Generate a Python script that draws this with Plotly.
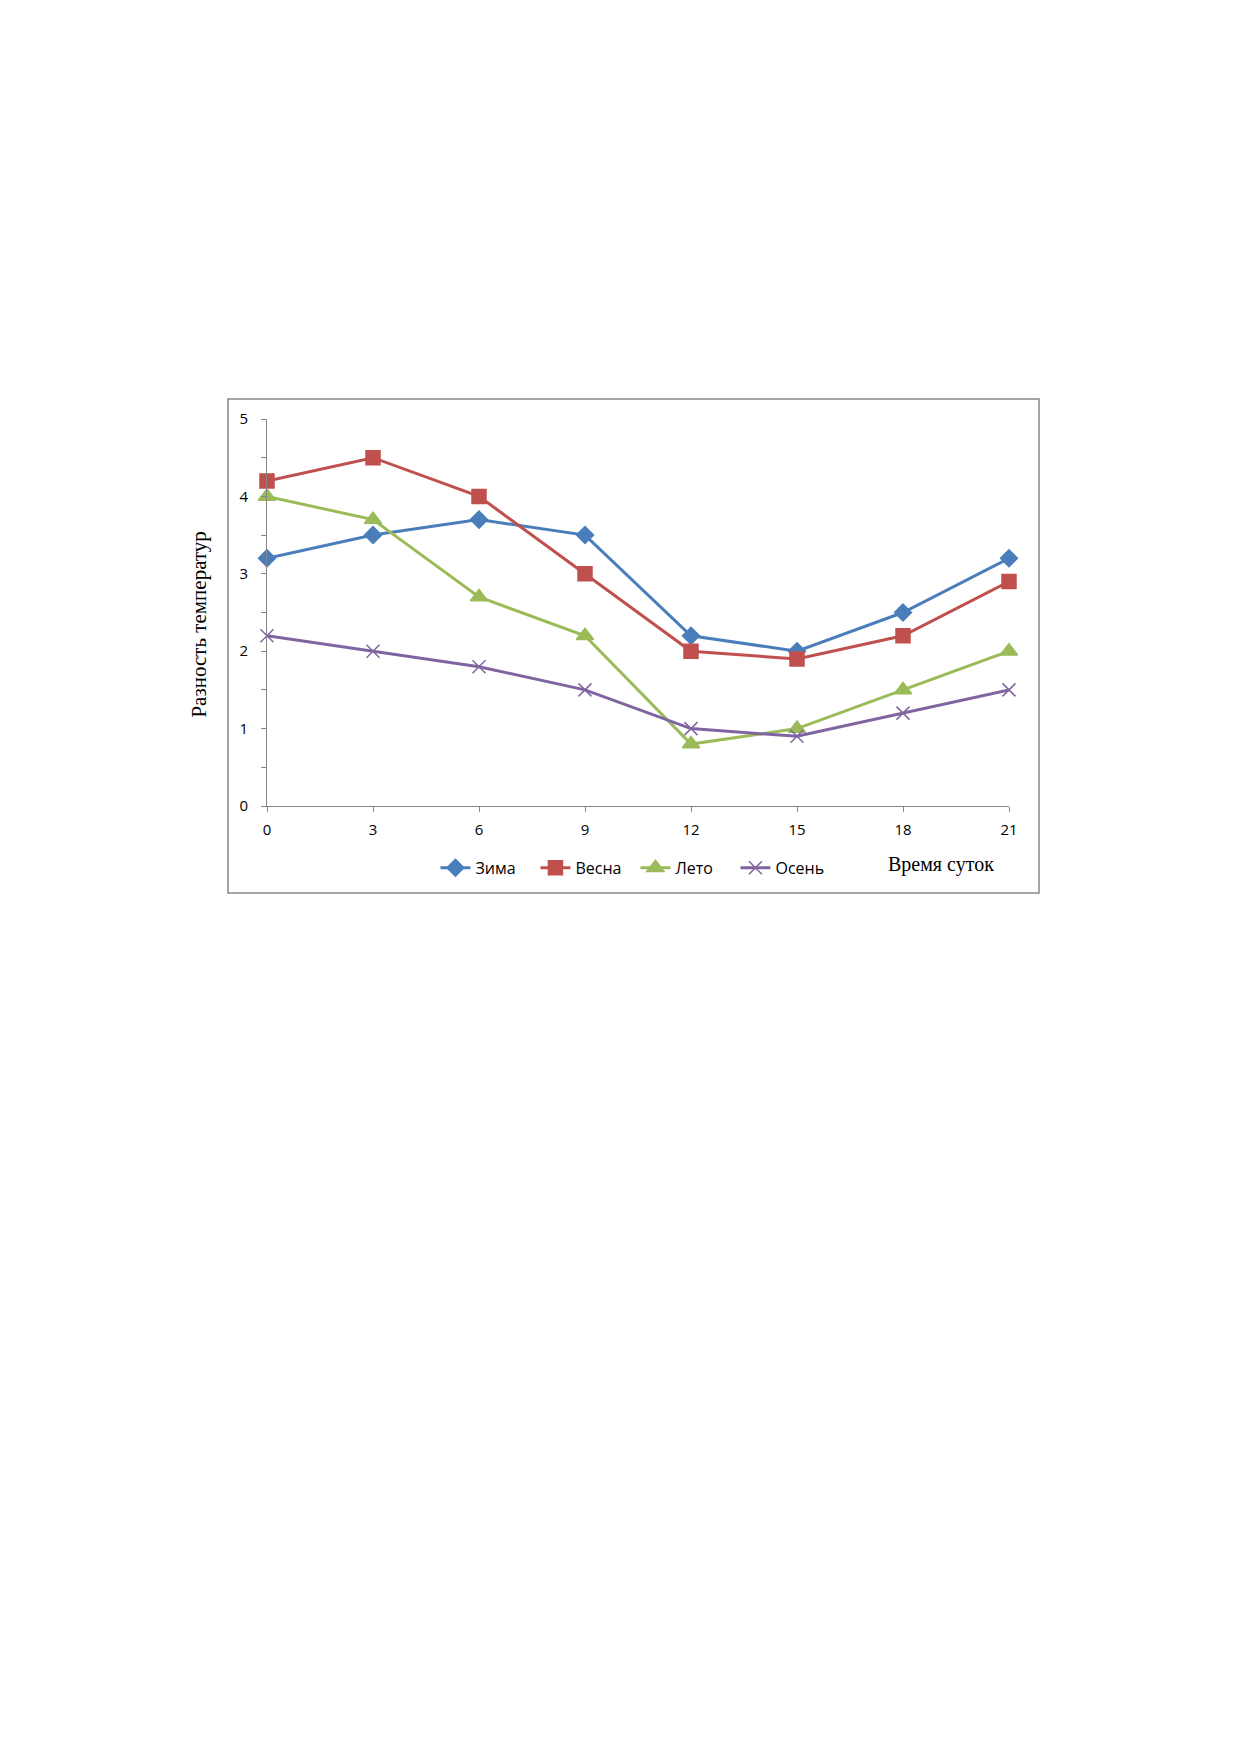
import plotly.graph_objects as go

# hours of the day
hours = [0, 3, 6, 9, 12, 15, 18, 21]

# temperature difference per season
zima = [3.2, 3.5, 3.7, 3.5, 2.2, 2.0, 2.5, 3.2]
vesna = [4.2, 4.5, 4.0, 3.0, 2.0, 1.9, 2.2, 2.9]
leto = [4.0, 3.7, 2.7, 2.2, 0.8, 1.0, 1.5, 2.0]
osen = [2.2, 2.0, 1.8, 1.5, 1.0, 0.9, 1.2, 1.5]

series = [
    ("Зима", zima, "#4A7EBB", "diamond", 13),
    ("Весна", vesna, "#C0504D", "square", 14),
    ("Лето", leto, "#9BBB59", "triangle-up", 15),
    ("Осень", osen, "#8064A2", "x-thin-open", 13),
]

fig = go.Figure()
for name, vals, col, sym, sz in series:
    fig.add_trace(go.Scatter(
        x=hours, y=vals, name=name, mode="lines+markers",
        line=dict(color=col, width=3), cliponaxis=False,
        marker=dict(symbol=sym, size=sz, color=col, line=dict(color=col, width=1.5)),
    ))

axis_col = "#868686"
tick_font = dict(family="Open Sans, Liberation Sans, sans-serif", size=15, color="#000")

# the page body has an 8px margin, so the plot box is shifted by that
fig.update_layout(
    width=1237, height=1754,
    paper_bgcolor="white", plot_bgcolor="white",
    margin=dict(l=259, r=236, t=411, b=956, autoexpand=False),
    showlegend=True,
    legend=dict(
        orientation="h", x=0.227, y=-0.16, xanchor="left", yanchor="middle",
        font=dict(family="Open Sans, Liberation Sans, sans-serif", size=16, color="#000"),
        itemwidth=30, entrywidth=55, tracegroupgap=0, traceorder="normal",
    ),
    xaxis=dict(
        range=[0, 21], tickvals=hours, showgrid=False, zeroline=False,
        showline=True, linecolor=axis_col, linewidth=1,
        ticks="outside", ticklen=5, tickcolor=axis_col,
        tickfont=tick_font, ticklabelstandoff=5,
    ),
    yaxis=dict(
        range=[0, 5], dtick=1, showgrid=False, zeroline=False,
        showline=True, linecolor=axis_col, linewidth=1,
        ticks="outside", ticklen=5, tickcolor=axis_col,
        tickfont=tick_font, ticklabelstandoff=10,
        minor=dict(dtick=0.5, ticks="outside", ticklen=5, tickcolor=axis_col),
    ),
    shapes=[dict(
        type="rect", xref="paper", yref="paper",
        x0=-0.0526, x1=1.0404, y0=-0.225, y1=1.0517,
        line=dict(color=axis_col, width=1.5), fillcolor="rgba(0,0,0,0)",
    )],
    annotations=[
        dict(text="Разность температур", xref="paper", yref="paper",
             x=-0.091, y=0.47, textangle=-90, showarrow=False,
             xanchor="center", yanchor="middle",
             font=dict(family="Liberation Serif, Times New Roman, serif", size=21, color="#000")),
        dict(text="Время суток", xref="paper", yref="paper",
             x=0.908, y=-0.152, showarrow=False,
             xanchor="center", yanchor="middle",
             font=dict(family="Liberation Serif, Times New Roman, serif", size=20, color="#000")),
    ],
)

fig.write_html("out.html")
